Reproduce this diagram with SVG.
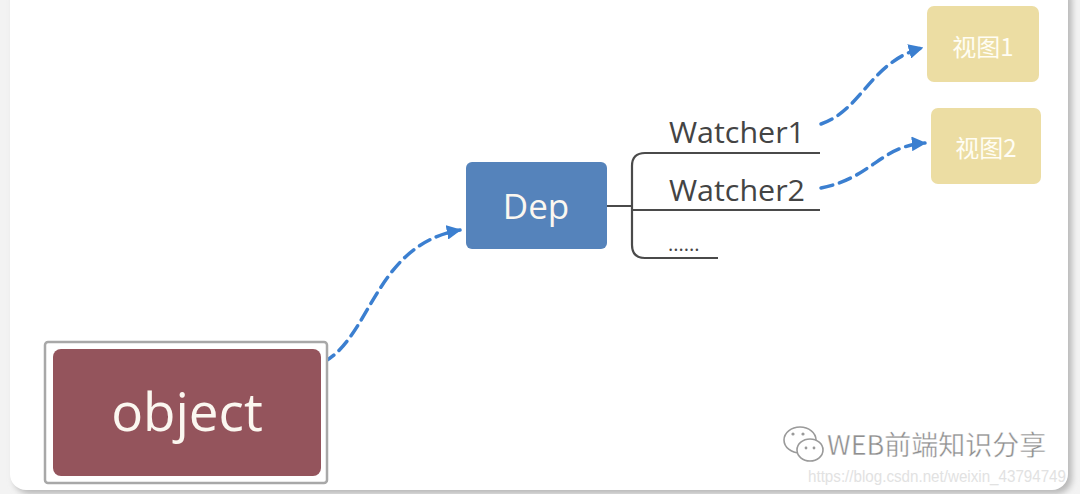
<svg xmlns="http://www.w3.org/2000/svg" width="1080" height="494" viewBox="0 0 1080 494">
<style>
.conn{fill:none;stroke:#3b7fd0;stroke-width:3.5;stroke-dasharray:12 7;stroke-linecap:round}
.tree{fill:none;stroke:#4a4a4a;stroke-width:2.2}
.lbl{font-family:"Open Sans","Noto Sans",sans-serif;fill:#444}
.wt{font-family:"Open Sans","Noto Sans",sans-serif;fill:#fbf7f0;text-anchor:middle}
.cjk{font-family:"Noto Sans CJK SC",sans-serif;fill:#fffdf4;text-anchor:middle;font-size:24px}
.view{fill:#ecdda3}
</style>
<defs>
<marker id="ah" viewBox="0 0 10 10" refX="9" refY="5" markerWidth="4.2" markerHeight="4.2" orient="auto" markerUnits="strokeWidth">
<path d="M0 0 L10 5 L0 10 Z" fill="#3b7fd0"/>
</marker>
<filter id="sh" x="-5%" y="-5%" width="110%" height="110%">
<feGaussianBlur stdDeviation="3"/>
</filter>
</defs>
<rect width="1080" height="494" fill="#f3f3f3"/>
<rect x="14" y="-16" width="1058" height="510" rx="16" fill="#b8b8b8" filter="url(#sh)"/>
<rect x="10" y="-16" width="1058" height="506" rx="16" fill="#ffffff"/>

<g id="connectors">
<path class="tree" d="M607 206 H632 M820 153 H645 Q632 153 632 166 V245 Q632 258 645 258 H718 M632 210 H820"/>
<path class="conn" d="M324 362 C372 335 375 245 460 230" marker-end="url(#ah)"/>
<path class="conn" d="M821 124 C862 110 870 62 922 48" marker-end="url(#ah)"/>
<path class="conn" d="M821 188 C872 178 880 146 925 143" marker-end="url(#ah)"/>
</g>

<g id="object">
<rect x="45" y="342" width="282" height="141" rx="3" fill="#ffffff" stroke="#a8a8a8" stroke-width="2.5"/>
<rect x="53" y="349" width="268" height="127" rx="8" fill="#94545c"/>
<text class="wt" x="187" y="431" font-size="53">object</text>
</g>

<g id="dep">
<rect x="466" y="162" width="141" height="87" rx="6" fill="#5583bb"/>
<text class="wt" x="536" y="219" font-size="35">Dep</text>
</g>

<g id="watcher1">
<text class="lbl" x="669" y="143" font-size="30" textLength="136" lengthAdjust="spacingAndGlyphs">Watcher1</text>
</g>
<g id="watcher2">
<text class="lbl" x="669" y="201" font-size="30" textLength="136" lengthAdjust="spacingAndGlyphs">Watcher2</text>
</g>
<g id="more">
<text class="lbl" x="668" y="251" font-size="20">......</text>
</g>

<g id="view1">
<rect class="view" x="927" y="6" width="112" height="76" rx="7"/>
<text class="cjk" x="983" y="56">视图1</text>
</g>
<g id="view2">
<rect class="view" x="931" y="108" width="110" height="76" rx="7"/>
<text class="cjk" x="986" y="157">视图2</text>
</g>

<g id="watermark">
<g fill="none" stroke="#9a9a9a" stroke-width="1.6">
<ellipse cx="800" cy="440" rx="16" ry="13"/>
<ellipse cx="810" cy="450" rx="13" ry="11" fill="#ffffff"/>
</g>
<g fill="#9a9a9a">
<circle cx="793" cy="434" r="1.6"/><circle cx="803" cy="434" r="1.6"/>
<circle cx="806" cy="448" r="1.4"/><circle cx="814" cy="448" r="1.4"/>
</g>
<text x="827" y="455" font-family="Noto Sans CJK SC,sans-serif" font-size="27" fill="#8f8f8f" stroke="#ffffff" stroke-width="0.4">WEB前端知识分享</text>
<text x="808" y="482" font-family="Liberation Sans,sans-serif" font-size="16" fill="#e2e2e2" textLength="258" lengthAdjust="spacingAndGlyphs">https://blog.csdn.net/weixin_43794749</text>
</g>
</svg>
